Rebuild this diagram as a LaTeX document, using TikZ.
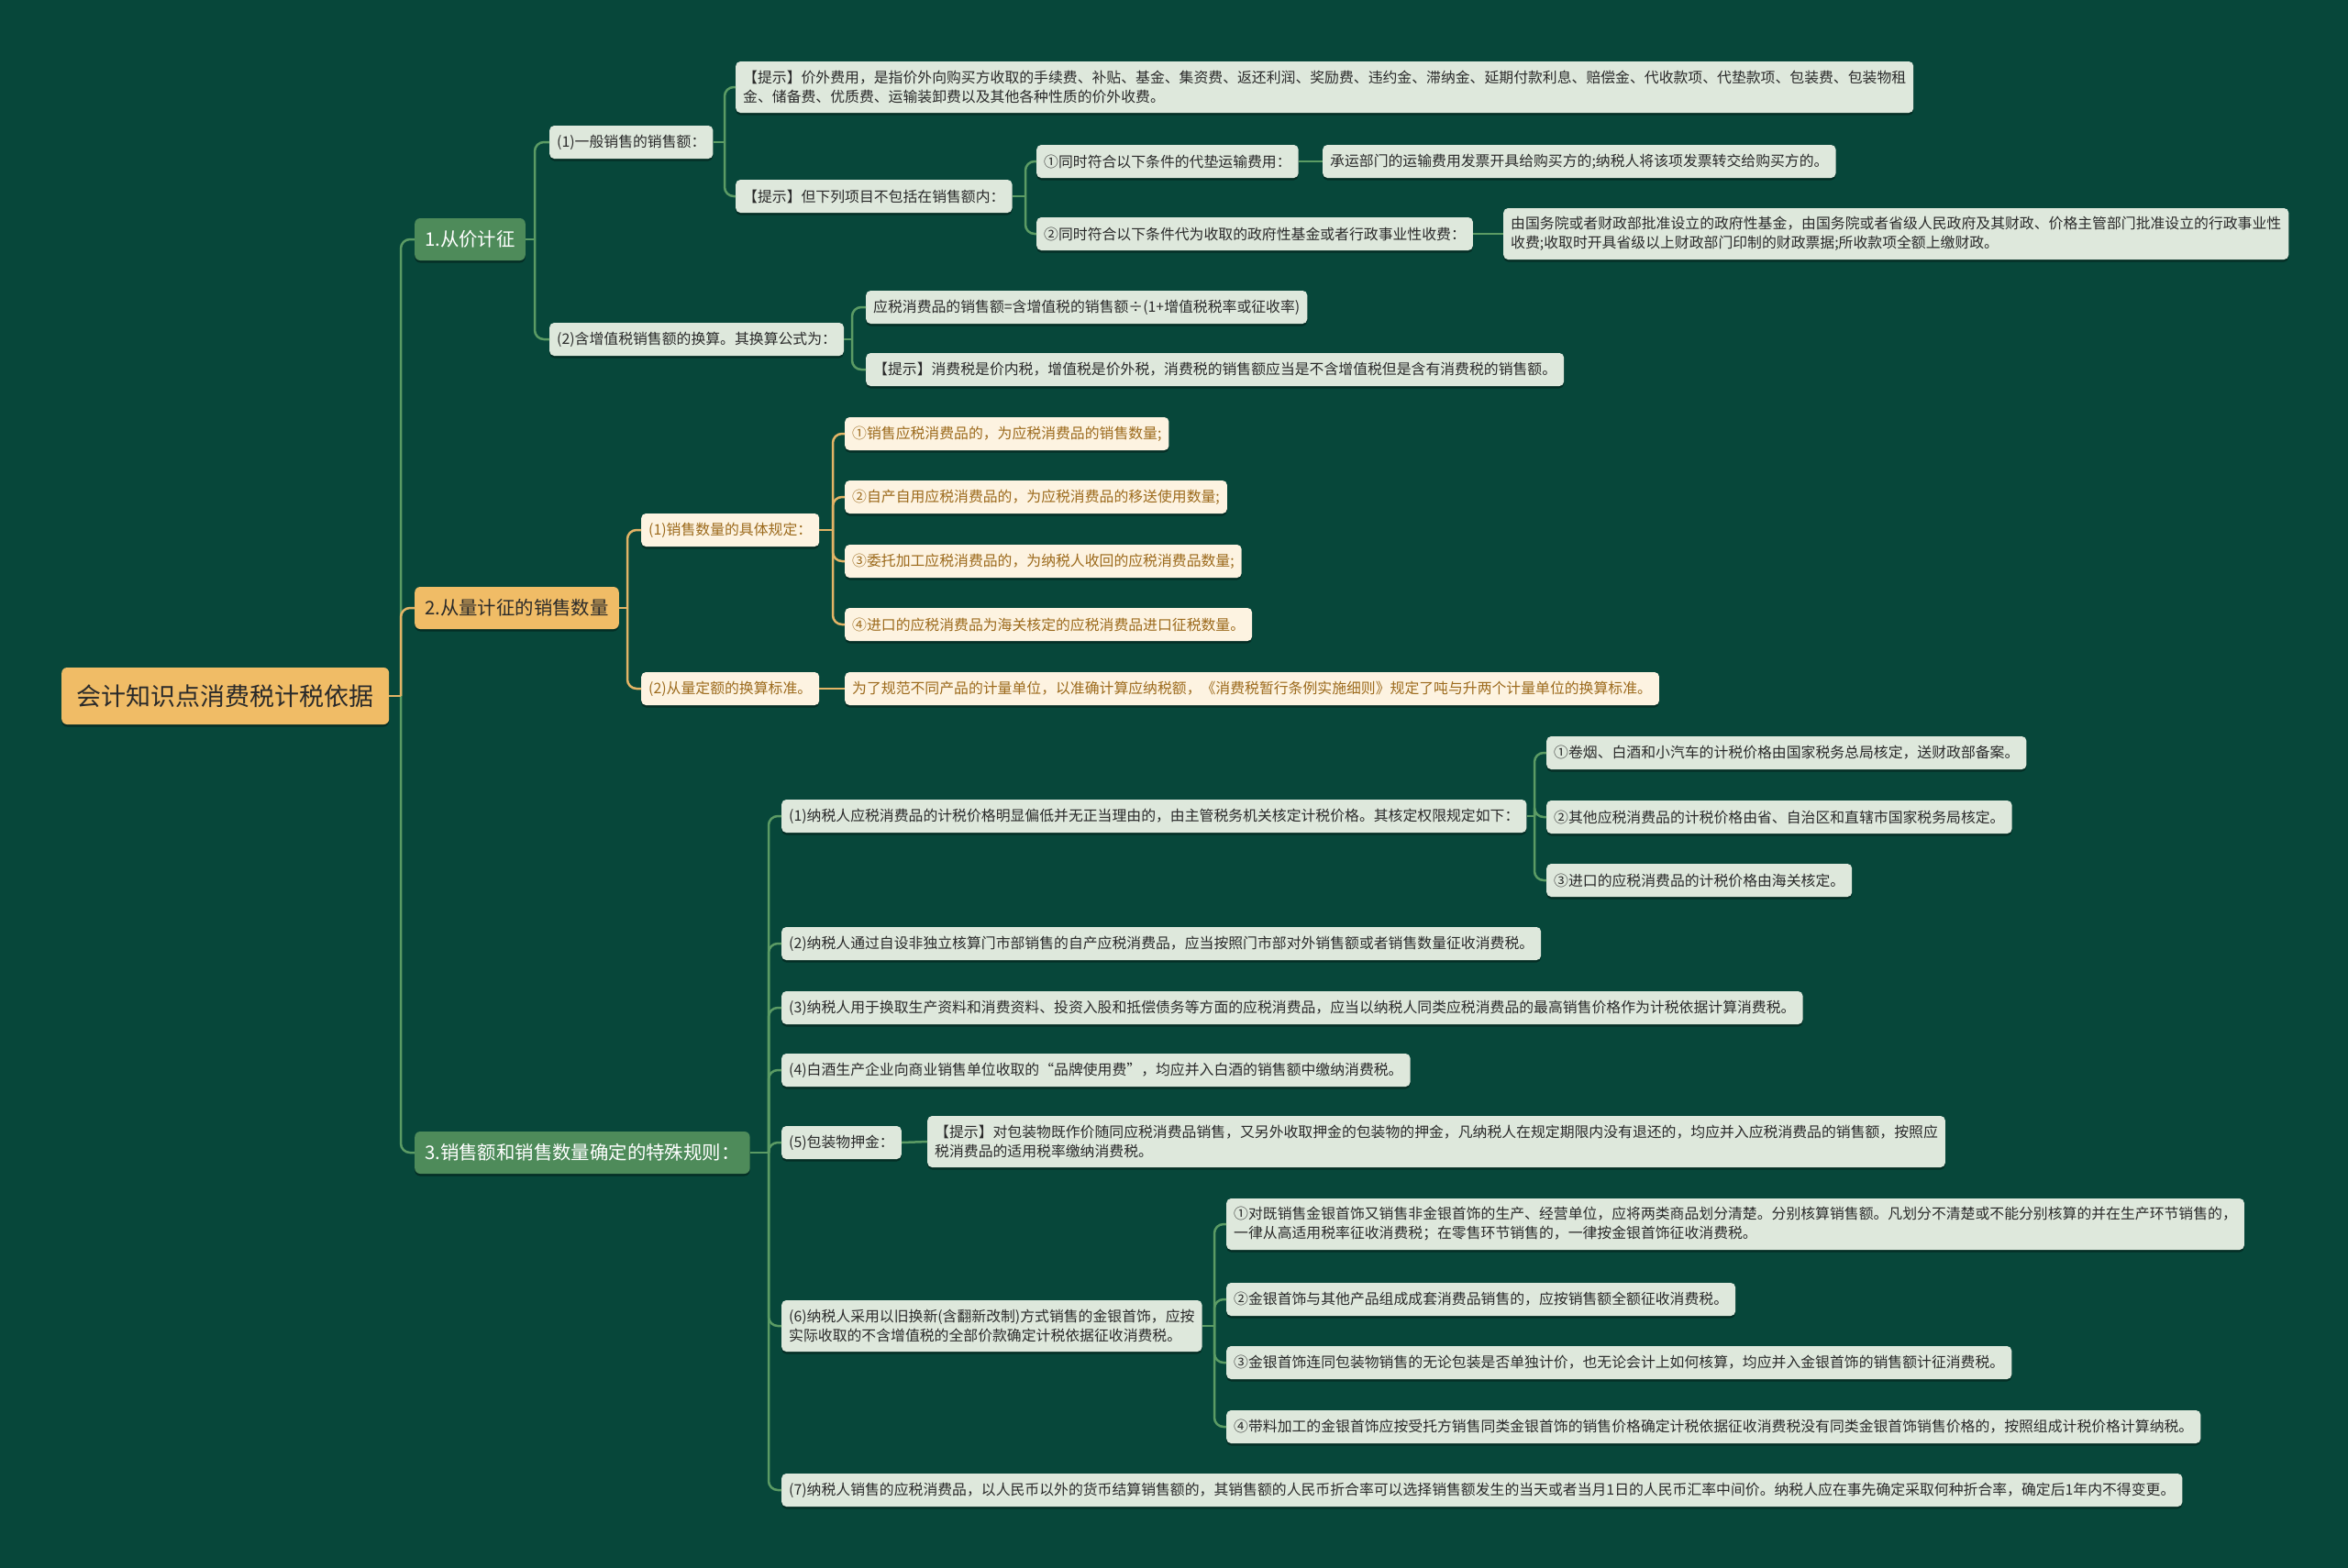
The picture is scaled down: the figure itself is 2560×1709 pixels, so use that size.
\documentclass[tikz,border=0pt]{standalone}
\usepackage{fontspec}
\newfontfamily\cjk{Noto Sans CJK SC}
\usetikzlibrary{shadows,calc}
\definecolor{bgc}{HTML}{07473A}
\definecolor{greenc}{HTML}{4E8B5A}
\definecolor{orangec}{HTML}{F0BC66}
\definecolor{leafc}{HTML}{DEE8DC}
\definecolor{creamc}{HTML}{FDF3E1}
\definecolor{browntext}{HTML}{9C6A1C}
\definecolor{darktext}{HTML}{2A2A2A}
\definecolor{lineg}{HTML}{5B9B64}
\definecolor{lineo}{HTML}{E3B466}
\begin{document}
\begin{tikzpicture}[x=1pt,y=-1pt,
  shad/.style={drop shadow={shadow xshift=0pt,shadow yshift=-2.5pt,fill=black,opacity=0.35}},
  base/.style={rounded corners=5pt, anchor=west, inner xsep=8pt, inner ysep=0pt,
    minimum height=36pt, font=\cjk\fontsize{15.85}{21}\selectfont, shad},
  leaf/.style={base, fill=leafc, text=darktext},
  twol/.style={leaf, align=left, minimum height=56pt},
  cream/.style={base, fill=creamc, text=browntext},
  lonegreen/.style={rounded corners=6pt, anchor=west, fill=greenc, text=white,
    font=\cjk\fontsize{20.4}{24}\selectfont, minimum height=46pt, inner xsep=11pt, inner ysep=0pt, shad},
  loneorange/.style={lonegreen, fill=orangec, text=darktext},
  rootbox/.style={rounded corners=6pt, anchor=west, fill=orangec, text=darktext,
    font=\cjk\fontsize{27}{32}\selectfont, minimum height=62pt, minimum width=357pt, inner sep=0pt, shad},
  cg/.style={draw=lineg, line width=2.5pt, rounded corners=10pt},
  co/.style={draw=lineo, line width=2.5pt, rounded corners=10pt}
]
\useasboundingbox (0,0) rectangle (2560,1709);
\fill[bgc] (-10,-10) rectangle (2570,1720);

% ---------- nodes ----------
\node[rootbox] (R) at (67,759) {会计知识点消费税计税依据};
\node[lonegreen] (A) at (452,261) {1.从价计征};
\node[loneorange] (B) at (452,663) {2.从量计征的销售数量};
\node[lonegreen] (C) at (452,1257) {3.销售额和销售数量确定的特殊规则：};

\node[leaf] (A1) at (599,155) {(1)一般销售的销售额：};
\node[twol] (A1a) at (802,95) {【提示】价外费用，是指价外向购买方收取的手续费、补贴、基金、集资费、返还利润、奖励费、违约金、滞纳金、延期付款利息、赔偿金、代收款项、代垫款项、包装费、包装物租\\金、储备费、优质费、运输装卸费以及其他各种性质的价外收费。};
\node[leaf] (A1b) at (802,214) {【提示】但下列项目不包括在销售额内：};
\node[leaf] (A1b1) at (1130,176) {①同时符合以下条件的代垫运输费用：};
\node[leaf] (A1b1x) at (1442,176) {承运部门的运输费用发票开具给购买方的;纳税人将该项发票转交给购买方的。};
\node[leaf] (A1b2) at (1130,255) {②同时符合以下条件代为收取的政府性基金或者行政事业性收费：};
\node[twol] (A1b2x) at (1639,255) {由国务院或者财政部批准设立的政府性基金，由国务院或者省级人民政府及其财政、价格主管部门批准设立的行政事业性\\收费;收取时开具省级以上财政部门印制的财政票据;所收款项全额上缴财政。};
\node[leaf] (A2) at (599,370) {(2)含增值税销售额的换算。其换算公式为：};
\node[leaf] (A2a) at (944,335) {应税消费品的销售额=含增值税的销售额÷(1+增值税税率或征收率)};
\node[leaf] (A2b) at (944,403) {【提示】消费税是价内税，增值税是价外税，消费税的销售额应当是不含增值税但是含有消费税的销售额。};

\node[cream] (B1) at (699,578) {(1)销售数量的具体规定：};
\node[cream] (B1a) at (921,473) {①销售应税消费品的，为应税消费品的销售数量;};
\node[cream] (B1b) at (921,542) {②自产自用应税消费品的，为应税消费品的移送使用数量;};
\node[cream] (B1c) at (921,612) {③委托加工应税消费品的，为纳税人收回的应税消费品数量;};
\node[cream] (B1d) at (921,681) {④进口的应税消费品为海关核定的应税消费品进口征税数量。};
\node[cream] (B2) at (699,751) {(2)从量定额的换算标准。};
\node[cream] (B2a) at (921,751) {为了规范不同产品的计量单位，以准确计算应纳税额，《消费税暂行条例实施细则》规定了吨与升两个计量单位的换算标准。};

\node[leaf] (C1) at (852,890) {(1)纳税人应税消费品的计税价格明显偏低并无正当理由的，由主管税务机关核定计税价格。其核定权限规定如下：};
\node[leaf] (C1a) at (1686,821) {①卷烟、白酒和小汽车的计税价格由国家税务总局核定，送财政部备案。};
\node[leaf] (C1b) at (1686,891) {②其他应税消费品的计税价格由省、自治区和直辖市国家税务局核定。};
\node[leaf] (C1c) at (1686,960) {③进口的应税消费品的计税价格由海关核定。};
\node[leaf] (C2) at (852,1029) {(2)纳税人通过自设非独立核算门市部销售的自产应税消费品，应当按照门市部对外销售额或者销售数量征收消费税。};
\node[leaf] (C3) at (852,1099) {(3)纳税人用于换取生产资料和消费资料、投资入股和抵偿债务等方面的应税消费品，应当以纳税人同类应税消费品的最高销售价格作为计税依据计算消费税。};
\node[leaf] (C4) at (852,1167) {(4)白酒生产企业向商业销售单位收取的“品牌使用费”，均应并入白酒的销售额中缴纳消费税。};
\node[leaf] (C5) at (852,1246) {(5)包装物押金：};
\node[twol] (C5a) at (1011,1245) {【提示】对包装物既作价随同应税消费品销售，又另外收取押金的包装物的押金，凡纳税人在规定期限内没有退还的，均应并入应税消费品的销售额，按照应\\税消费品的适用税率缴纳消费税。};
\node[twol] (C6) at (852,1446) {(6)纳税人采用以旧换新(含翻新改制)方式销售的金银首饰，应按\\实际收取的不含增值税的全部价款确定计税依据征收消费税。};
\node[twol] (C6a) at (1337,1335) {①对既销售金银首饰又销售非金银首饰的生产、经营单位，应将两类商品划分清楚。分别核算销售额。凡划分不清楚或不能分别核算的并在生产环节销售的，\\一律从高适用税率征收消费税；在零售环节销售的，一律按金银首饰征收消费税。};
\node[leaf] (C6b) at (1337,1417) {②金银首饰与其他产品组成成套消费品销售的，应按销售额全额征收消费税。};
\node[leaf] (C6c) at (1337,1486) {③金银首饰连同包装物销售的无论包装是否单独计价，也无论会计上如何核算，均应并入金银首饰的销售额计征消费税。};
\node[leaf] (C6d) at (1337,1556) {④带料加工的金银首饰应按受托方销售同类金银首饰的销售价格确定计税依据征收消费税没有同类金银首饰销售价格的，按照组成计税价格计算纳税。};
\node[leaf] (C7) at (852,1625) {(7)纳税人销售的应税消费品，以人民币以外的货币结算销售额的，其销售额的人民币折合率可以选择销售额发生的当天或者当月1日的人民币汇率中间价。纳税人应在事先确定采取何种折合率，确定后1年内不得变更。};

% ---------- junctions ----------
\coordinate (Rj) at (437,759);
\coordinate (Aj) at (583,261);
\coordinate (A1j) at (790,155);
\coordinate (A1bj) at (1118,214);
\coordinate (A2j) at (929,370);
\coordinate (Bj) at (684,663);
\coordinate (B1j) at (908,578);
\coordinate (Cj) at (838,1257);
\coordinate (C1j) at (1673,890);
\coordinate (C6j) at (1324,1446);

% ---------- connectors ----------
\draw[cg] (Rj) |- (A.west);
\draw[cg] (Rj) |- (C.west);
\draw[co] (R.east) -- (Rj);
\draw[co] (Rj) |- (B.west);

\draw[cg] (A.east) -- (Aj);
\draw[cg] (Aj) |- (A1.west);
\draw[cg] (Aj) |- (A2.west);
\draw[cg] (A1.east) -- (A1j);
\draw[cg] (A1j) |- (A1a.west);
\draw[cg] (A1j) |- (A1b.west);
\draw[cg] (A1b.east) -- (A1bj);
\draw[cg] (A1bj) |- (A1b1.west);
\draw[cg] (A1bj) |- (A1b2.west);
\draw[cg] (A1b1.east) -- (A1b1x.west);
\draw[cg] (A1b2.east) -- (A1b2x.west);
\draw[cg] (A2.east) -- (A2j);
\draw[cg] (A2j) |- (A2a.west);
\draw[cg] (A2j) |- (A2b.west);

\draw[co] (B.east) -- (Bj);
\draw[co] (Bj) |- (B1.west);
\draw[co] (Bj) |- (B2.west);
\draw[co] (B1.east) -- (B1j);
\foreach \n in {B1a,B1b,B1c,B1d} {\draw[co] (B1j) |- (\n.west);}
\draw[co] (B2.east) -- (B2a.west);

\draw[cg] (C.east) -- (Cj);
\foreach \n in {C1,C2,C3,C4,C5,C6,C7} {\draw[cg] (Cj) |- (\n.west);}
\draw[cg] (C1.east) -- (C1j);
\foreach \n in {C1a,C1b,C1c} {\draw[cg] (C1j) |- (\n.west);}
\draw[cg] (C5.east) -- (C5a.west);
\draw[cg] (C6.east) -- (C6j);
\foreach \n in {C6a,C6b,C6c,C6d} {\draw[cg] (C6j) |- (\n.west);}
\end{tikzpicture}
\end{document}
